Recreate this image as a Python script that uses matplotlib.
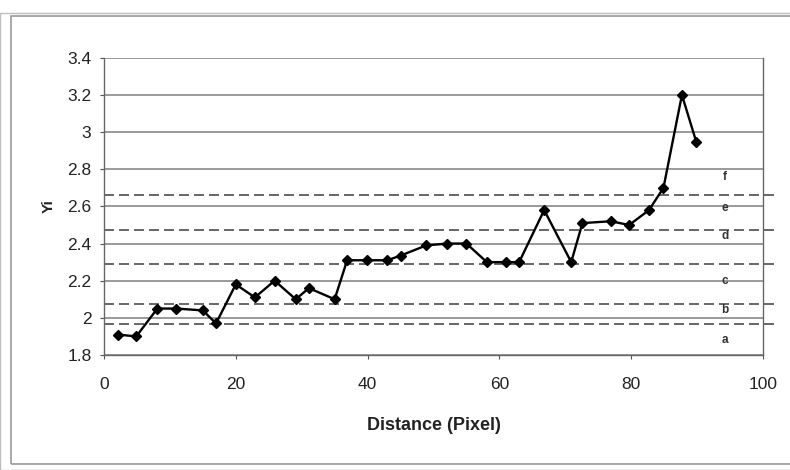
import numpy as np
import matplotlib
matplotlib.use('Agg')
from matplotlib import pyplot as plt
from matplotlib.patches import Rectangle

plt.rcParams['font.family'] = ['Liberation Sans', 'DejaVu Sans']

# measured profile
distance = [2.1, 4.9, 8.1, 11.0, 15.0, 17.0, 20.0, 22.9, 25.9, 29.1, 31.1, 35.0,
            36.9, 39.9, 43.0, 45.0, 48.9, 52.1, 55.0, 58.1, 61.0, 63.0, 66.8,
            70.9, 72.6, 76.9, 79.7, 82.7, 84.9, 87.7, 89.9]
yi = [1.91, 1.90, 2.05, 2.05, 2.04, 1.97, 2.18, 2.11, 2.20, 2.10, 2.16, 2.10,
      2.31, 2.31, 2.31, 2.335, 2.39, 2.40, 2.40, 2.30, 2.30, 2.30, 2.58,
      2.30, 2.51, 2.52, 2.50, 2.58, 2.70, 3.20, 2.945]

# class boundaries (dashed) and class labels
thresholds = [1.965, 2.075, 2.29, 2.475, 2.66]
class_names = ['a', 'b', 'c', 'd', 'e', 'f']
class_label_y = [1.88, 2.04, 2.20, 2.44, 2.59, 2.76]

x_ticks = [0, 20, 40, 60, 80, 100]
y_ticks = [1.8, 2.0, 2.2, 2.4, 2.6, 2.8, 3.0, 3.2, 3.4]
y_tick_labels = ['1.8', '2', '2.2', '2.4', '2.6', '2.8', '3', '3.2', '3.4']


def main():
    fig = plt.figure(figsize=(7.9, 4.7), dpi=100)
    ax = fig.add_axes([0.1316, 0.2447, 0.8342, 0.6323])

    # chart area frame
    fig.patches.append(Rectangle((0.014, 0.012), 0.99, 0.955, transform=fig.transFigure,
                                 fill=False, edgecolor='#9a9a9a', lw=1.2))
    fig.patches.append(Rectangle((0.0, 0.0), 1.2, 0.972, transform=fig.transFigure,
                                 fill=False, edgecolor='#bdbdbd', lw=1.0))

    for y in y_ticks:
        ax.axhline(y, color='#7f7f7f', lw=1.1, zorder=1)

    for t in thresholds:
        ax.plot([0, 102], [t, t], ls=(0, (6, 3)), color='#4d4d4d', lw=1.2,
                clip_on=False, zorder=2)

    for name, y in zip(class_names, class_label_y):
        ax.text(94.2, y, name, fontsize=8.5, fontweight='bold', color='#333333',
                ha='center', va='center')

    ax.plot(distance, yi, color='black', lw=1.7, marker='D', markersize=5.5, zorder=3)

    ax.set_xlim(0, 100)
    ax.set_ylim(1.8, 3.4)
    ax.set_xticks(x_ticks)
    ax.set_yticks(y_ticks)
    ax.set_yticklabels(y_tick_labels)
    ax.tick_params(labelsize=12.5, length=3, color='#555555', labelcolor='#222222')
    ax.tick_params(axis='x', pad=13)
    ax.tick_params(axis='y', pad=6)

    ax.spines['top'].set_visible(False)
    for side in ['left', 'right', 'bottom']:
        ax.spines[side].set_color('#666666')
        ax.spines[side].set_linewidth(1.0)

    ax.set_xlabel('Distance (Pixel)', fontsize=13, fontweight='bold', labelpad=18,
                  color='#222222')
    ax.set_ylabel('Yi', fontsize=11, fontweight='bold', labelpad=8, color='#222222')

    fig.savefig('out.png', dpi=100)
    plt.close(fig)


if __name__ == '__main__':
    main()
